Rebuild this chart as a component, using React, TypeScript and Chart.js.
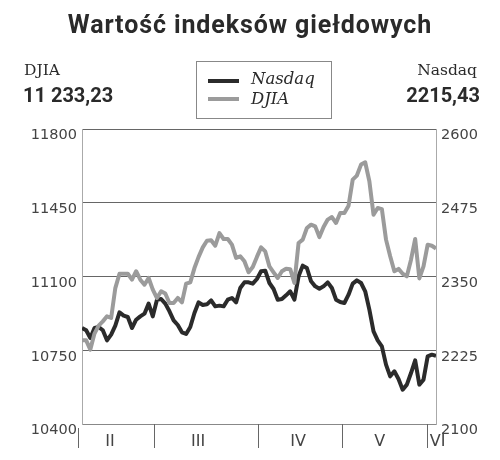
import React, { useEffect, useRef } from "react";
import { Chart, registerables } from "chart.js";

Chart.register(...registerables);

// DJIA daily close (left axis), Feb – early Jun
const djia = [
  10797, 10797, 10753, 10829, 10867, 10887, 10911, 10903, 11045, 11113,
  11113, 11113, 11085, 11125, 11085, 11061, 11093, 11038, 10998, 11030,
  11019, 10974, 10974, 10998, 10977, 11066, 11072, 11140, 11193, 11238,
  11270, 11272, 11246, 11306, 11278, 11278, 11251, 11188, 11196, 11172,
  11120, 11145, 11193, 11238, 11219, 11148, 11120, 11093, 11125, 11137,
  11135, 11069, 11259, 11275, 11330, 11346, 11338, 11287, 11335, 11370,
  11382, 11354, 11401, 11401, 11436, 11560, 11579, 11631, 11642, 11552,
  11393, 11425, 11420, 11275, 11196, 11125, 11136, 11113, 11101, 11180,
  11278, 11091, 11148, 11251, 11246, 11233,
];

// Nasdaq daily close (right axis)
const nasdaq = [
  2262.7, 2258.8, 2245.8, 2262.7, 2264.4, 2258.8, 2241.8, 2251.4, 2266.7, 2289.3,
  2283.6, 2281.4, 2262.7, 2276.8, 2282.5, 2287.0, 2304.0, 2282.5, 2310.7, 2311.9,
  2304.0, 2291.0, 2275.7, 2267.8, 2255.4, 2252.6, 2264.4, 2288.1, 2306.2, 2301.7,
  2302.8, 2309.6, 2299.4, 2300.6, 2299.4, 2310.7, 2313.6, 2306.2, 2330.5, 2340.1,
  2340.1, 2337.9, 2345.8, 2358.8, 2359.9, 2339.0, 2328.8, 2310.7, 2311.9, 2318.1,
  2324.9, 2310.7, 2350.3, 2368.4, 2364.4, 2341.8, 2333.3, 2329.4, 2333.3, 2340.1,
  2330.5, 2310.7, 2306.8, 2305.1, 2319.2, 2337.9, 2343.5, 2339.0, 2324.9, 2293.8,
  2257.1, 2241.8, 2231.6, 2200.6, 2180.8, 2189.3, 2176.3, 2158.2, 2166.7, 2186.4,
  2207.9, 2166.7, 2175.1, 2214.7, 2217.5, 2215.4,
];

// trading-day index used as the x category
const tradingDays = djia.map((_, i) => i);

// month boundaries (in trading-day index) and month labels
const monthBoundaries = [-1, 17.3, 42.3, 62.4, 82.8];
const monthLabels = ["II", "III", "IV", "V", "VI"];
const monthLabelPos = [6.7, 27.9, 51.9, 71.5, 85.4];

// axis ticks
const djiaTicks = [10400, 10750, 11100, 11450, 11800];
const nasdaqTicks = [2100, 2225, 2350, 2475, 2600];

const title = "Wartość indeksów giełdowych";
const leftName = "DJIA";
const leftValue = "11 233,23";
const rightName = "Nasdaq";
const rightValue = "2215,43";

const DARK = "#2b2b2b";
const GREY = "#9b9b9b";

const monthPlugin = {
  id: "monthSeparators",
  afterDraw(chart: any) {
    const x = chart.scales.x;
    const ctx = chart.ctx;
    const base = chart.chartArea.bottom;
    ctx.save();
    ctx.strokeStyle = "#666";
    ctx.lineWidth = 1;
    monthBoundaries.forEach((v) => {
      const px = Math.round(x.getPixelForValue(v)) + 0.5;
      ctx.beginPath();
      ctx.moveTo(px, base + (v < 0 ? 4 : 0));
      ctx.lineTo(px, base + 24);
      ctx.stroke();
    });
    ctx.fillStyle = "#444";
    ctx.font = '16px "DejaVu Sans"';
    ctx.textAlign = "center";
    ctx.textBaseline = "middle";
    monthLabels.forEach((m, i) => {
      ctx.fillText(m, x.getPixelForValue(monthLabelPos[i]), base + 18);
    });
    ctx.restore();
  },
};

function ChartCanvas() {
  const ref = useRef<HTMLCanvasElement | null>(null);
  useEffect(() => {
    if (!ref.current) return;
    const chart = new Chart(ref.current, {
      type: "line",
      data: {
        labels: tradingDays,
        datasets: [
          {
            label: "DJIA",
            data: djia,
            yAxisID: "y",
            borderColor: GREY,
            borderWidth: 4,
            pointRadius: 0,
            tension: 0,
            borderJoinStyle: "round",
            borderCapStyle: "butt",
          },
          {
            label: "Nasdaq",
            data: nasdaq,
            yAxisID: "y1",
            borderColor: DARK,
            borderWidth: 4,
            pointRadius: 0,
            tension: 0,
            borderJoinStyle: "round",
            borderCapStyle: "butt",
          },
        ],
      },
      options: {
        responsive: false,
        animation: false,
        layout: { padding: { top: 129, left: 0, right: 0, bottom: 0 } },
        plugins: {
          legend: { display: false },
          tooltip: { enabled: false },
          title: { display: false },
        },
        scales: {
          x: {
            type: "linear",
            min: 0,
            max: 85,
            ticks: { display: false },
            grid: { display: false },
            border: { display: true, color: "#888", width: 1 },
            afterFit(scale: any) {
              scale.height = 36;
            },
          },
          y: {
            position: "left",
            min: 10400,
            max: 11800,
            afterBuildTicks(scale: any) {
              scale.ticks = djiaTicks.map((v) => ({ value: v }));
            },
            ticks: {
              color: "#444",
              font: { family: "DejaVu Sans", size: 14.5 },
              padding: 5,
              labelOffset: 6.5,
              callback: (v: any) => String(v),
            },
            grid: { color: "#666", lineWidth: 1, drawTicks: false },
            border: { display: true, color: "#aaa", width: 1 },
            afterFit(scale: any) {
              scale.width = 82;
            },
          },
          y1: {
            position: "right",
            min: 2100,
            max: 2600,
            afterBuildTicks(scale: any) {
              scale.ticks = nasdaqTicks.map((v) => ({ value: v }));
            },
            ticks: {
              color: "#444",
              font: { family: "DejaVu Sans", size: 14.5 },
              padding: 5,
              labelOffset: 6.5,
              callback: (v: any) => String(v),
            },
            grid: { drawOnChartArea: false, drawTicks: false },
            border: { display: true, color: "#aaa", width: 1 },
            afterFit(scale: any) {
              scale.width = 64;
            },
          },
        },
      } as any,
      plugins: [monthPlugin],
    });
    return () => chart.destroy();
  }, []);
  return (
    <canvas
      ref={ref}
      width={500}
      height={460}
      style={{ position: "absolute", left: 0, top: 0, width: 500, height: 460 }}
    />
  );
}

export default function App() {
  const sans = "Roboto, 'DejaVu Sans', sans-serif";
  const serif = "'DejaVu Serif', 'Liberation Serif', serif";
  return (
    <div
      style={{
        position: "absolute",
        left: 0,
        top: 0,
        width: 500,
        height: 460,
        background: "#fff",
        overflow: "hidden",
      }}
    >
      <ChartCanvas />
      <div
        style={{
          position: "absolute",
          left: 0,
          top: 12,
          width: 500,
          textAlign: "center",
          fontFamily: sans,
          fontWeight: 700,
          fontSize: 25,
          lineHeight: "25px",
          letterSpacing: "0.9px",
          color: "#2a2a2a",
          whiteSpace: "nowrap",
        }}
      >
        {title}
      </div>
      <div
        style={{
          position: "absolute",
          left: 24,
          top: 62,
          fontFamily: serif,
          fontSize: 15.5,
          lineHeight: "16px",
          color: "#2a2a2a",
          whiteSpace: "nowrap",
        }}
      >
        {leftName}
      </div>
      <div
        style={{
          position: "absolute",
          left: 23,
          top: 85,
          fontFamily: sans,
          fontWeight: 700,
          fontSize: 20,
          lineHeight: "20px",
          color: "#2a2a2a",
          whiteSpace: "nowrap",
        }}
      >
        {leftValue}
      </div>
      <div
        style={{
          position: "absolute",
          right: 500 - 477,
          top: 62,
          fontFamily: serif,
          fontSize: 15.5,
          lineHeight: "16px",
          color: "#2a2a2a",
          whiteSpace: "nowrap",
          textAlign: "right",
        }}
      >
        {rightName}
      </div>
      <div
        style={{
          position: "absolute",
          right: 500 - 480,
          top: 85,
          fontFamily: sans,
          fontWeight: 700,
          fontSize: 20,
          lineHeight: "20px",
          color: "#2a2a2a",
          whiteSpace: "nowrap",
          textAlign: "right",
        }}
      >
        {rightValue}
      </div>
      <div
        style={{
          position: "absolute",
          left: 196,
          top: 61,
          width: 134,
          height: 56,
          border: "1px solid #888",
          background: "#fff",
        }}
      >
        <div
          style={{
            position: "absolute",
            left: 11,
            top: 17,
            width: 31,
            height: 4,
            background: DARK,
          }}
        />
        <div
          style={{
            position: "absolute",
            left: 11,
            top: 35,
            width: 31,
            height: 4,
            background: GREY,
          }}
        />
        <div
          style={{
            position: "absolute",
            left: 54,
            top: 7,
            fontFamily: serif,
            fontStyle: "italic",
            fontSize: 16.5,
            lineHeight: "20px",
            color: "#2a2a2a",
            whiteSpace: "nowrap",
          }}
        >
          {rightName}
        </div>
        <div
          style={{
            position: "absolute",
            left: 54,
            top: 27,
            fontFamily: serif,
            fontStyle: "italic",
            fontSize: 16.5,
            lineHeight: "20px",
            color: "#2a2a2a",
            whiteSpace: "nowrap",
          }}
        >
          {leftName}
        </div>
      </div>
    </div>
  );
}
